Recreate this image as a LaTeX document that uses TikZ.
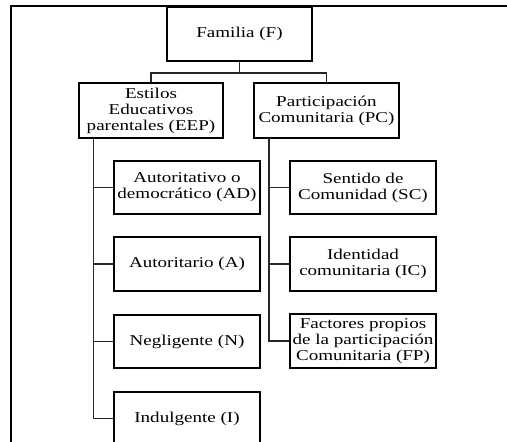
\documentclass[tikz,border=0pt]{standalone}
\usepackage{fontspec}
\setmainfont{Liberation Serif}[FakeStretch=1.27]
\begin{document}
\begin{tikzpicture}[x=1pt,y=-1pt,
  box/.style={draw=black, line width=1.3pt, minimum width=145pt, minimum height=54pt, inner sep=0pt, align=center, font=\fontsize{15}{16}\selectfont},
  conn/.style={draw=black!85, line width=1.3pt},
  frame/.style={draw=black, line width=2.5pt}]
\useasboundingbox (0,0) rectangle (507,442);
\clip (0,0) rectangle (507,442);
\fill[white] (0,0) rectangle (507,442);
% nodes
\node[box] (F) at (239.5,34) {Familia (F)};
\node[box, minimum width=144pt, minimum height=55pt] (EEP) at (151,110.5) {Estilos\\Educativos\\parentales (EEP)};
\node[box, minimum height=55pt] (PC) at (326.5,110.5) {Participación\\Comunitaria (PC)};
\node[box, minimum width=146pt, minimum height=53pt] (AD) at (187,187.5) {Autoritativo o\\democrático (AD)};
\node[box, minimum width=146pt] (A) at (187,264) {Autoritario (A)};
\node[box, minimum width=146pt, minimum height=53pt] (N) at (187,341.5) {Negligente (N)};
\node[box, minimum width=146pt, minimum height=53pt] (I) at (187,418.5) {Indulgente (I)};
\node[box, minimum width=146pt, minimum height=53pt] (SC) at (363,187.5) {Sentido de\\Comunidad (SC)};
\node[box, minimum width=146pt] (IC) at (363,264) {Identidad\\comunitaria (IC)};
\node[box, minimum width=146pt, minimum height=54pt] (FP) at (363,341) {Factores propios\\de la participación\\Comunitaria (FP)};
% connectors
\coordinate (fork) at (239.5,73);
\draw[conn] (F.south) -- (fork);
\draw[conn] (EEP.north) |- (fork) -| (PC.north);
\coordinate (lsp) at (93.5,138);
\draw[conn] (lsp) |- (I.west);
\foreach \n in {AD,A,N} \draw[conn] (lsp |- \n.west) -- (\n.west);
\coordinate (rsp) at (269,138);
\draw[conn] (rsp) |- (FP.west);
\foreach \n in {SC,IC} \draw[conn] (rsp |- \n.west) -- (\n.west);
% frame
\draw[frame] (11,443) -- (11,6) -- (508,6);
\end{tikzpicture}
\end{document}
